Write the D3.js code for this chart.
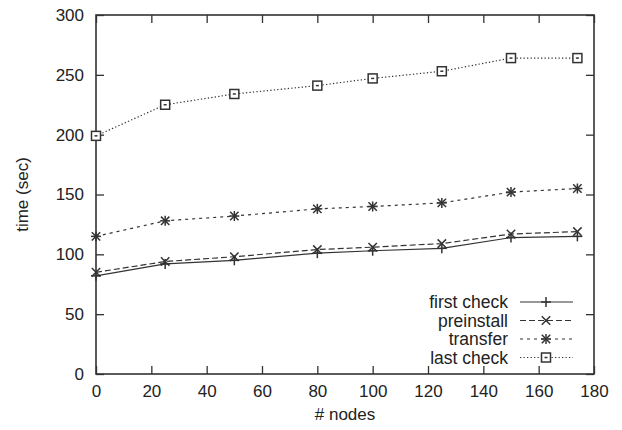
<!DOCTYPE html>
<html>
<head>
<meta charset="utf-8">
<script src="https://cdn.jsdelivr.net/npm/d3@7"></script>
<style>
  body { margin: 0; background: #fff; }
  text { font-family: "Liberation Sans", Arial, sans-serif; fill: #222; }
</style>
</head>
<body>
<script>
// node counts on x
var nodes = [0, 25, 50, 80, 100, 125, 150, 174];

var firstCheck = [82, 92, 95, 101, 103, 105, 114, 115];
var preinstall = [85, 94, 98, 104, 106, 109, 117, 119];
var transfer   = [115, 128, 132, 138, 140, 143, 152, 155];
var lastCheck  = [199, 225, 234, 241, 247, 253, 264, 264];

var xTicks = [0, 20, 40, 60, 80, 100, 120, 140, 160, 180];
var yTicks = [0, 50, 100, 150, 200, 250, 300];

var series = [
  {name: "first check", values: firstCheck, dash: null, marker: "plus"},
  {name: "preinstall", values: preinstall, dash: "6,3", marker: "cross"},
  {name: "transfer", values: transfer, dash: "3,4", marker: "star"},
  {name: "last check", values: lastCheck, dash: "1.3,2.2", marker: "box"}
];

var width = 622, height = 430;
var margin = {top: 15, right: 28, bottom: 56, left: 96};
var w = width - margin.left - margin.right, h = height - margin.top - margin.bottom;

var xScale = d3.scaleLinear().domain([0, 180]).range([0, w]);
var yScale = d3.scaleLinear().domain([0, 300]).range([h, 0]);

var svg = d3.select("body").append("svg")
    .attr("width", width)
    .attr("height", height)
  .append("g")
    .attr("transform", "translate(" + margin.left + "," + margin.top + ")");

// axes, gnuplot style ticks pointing inwards on all sides
var ink = "#333";
function styleAxis(g) {
  g.select(".domain").remove();
  g.selectAll(".tick line").attr("stroke", ink).attr("stroke-width", 1.3);
  g.selectAll(".tick text").attr("font-size", 17).attr("fill", "#222")
    .style("font-family", "'Liberation Sans', Arial, sans-serif");
}

svg.append("g")
    .attr("transform", "translate(0," + h + ")")
    .call(d3.axisBottom(xScale).tickValues(xTicks).tickSize(-8).tickPadding(11))
    .call(styleAxis);
svg.append("g")
    .call(d3.axisTop(xScale).tickValues(xTicks).tickSize(-8).tickFormat(""))
    .call(styleAxis);
svg.append("g")
    .call(d3.axisLeft(yScale).tickValues(yTicks).tickSize(-8).tickPadding(12))
    .call(styleAxis);
svg.append("g")
    .attr("transform", "translate(" + w + ",0)")
    .call(d3.axisRight(yScale).tickValues(yTicks).tickSize(-8).tickFormat(""))
    .call(styleAxis);

svg.append("rect")
    .attr("width", w).attr("height", h)
    .attr("fill", "none").attr("stroke", ink).attr("stroke-width", 1.6);

// markers
function drawMarker(g, type, x, y) {
  var s = 5;
  if (type == "plus" || type == "star") {
    g.append("line").attr("x1", x - s).attr("x2", x + s).attr("y1", y).attr("y2", y);
    g.append("line").attr("x1", x).attr("x2", x).attr("y1", y - s).attr("y2", y + s);
  }
  if (type == "cross" || type == "star") {
    var c = 4.2;
    g.append("line").attr("x1", x - c).attr("x2", x + c).attr("y1", y - c).attr("y2", y + c);
    g.append("line").attr("x1", x - c).attr("x2", x + c).attr("y1", y + c).attr("y2", y - c);
  }
  if (type == "box") {
    g.append("rect").attr("x", x - 4.5).attr("y", y - 4.5).attr("width", 9).attr("height", 9)
      .attr("fill", "#fff");
    g.append("line").attr("x1", x - 1.5).attr("x2", x + 1.5).attr("y1", y).attr("y2", y);
  }
}

var line = d3.line()
    .x(function(d) { return xScale(d.x); })
    .y(function(d) { return yScale(d.y); });

series.forEach(function(s) {
  var pts = nodes.map(function(n, i) { return {x: n, y: s.values[i]}; });
  svg.append("path")
      .datum(pts)
      .attr("d", line)
      .attr("fill", "none")
      .attr("stroke", ink)
      .attr("stroke-width", 1.2)
      .attr("stroke-dasharray", s.dash);
  var mg = svg.append("g").attr("stroke", ink).attr("stroke-width", 1.5).attr("fill", "none");
  pts.forEach(function(p) { drawMarker(mg, s.marker, xScale(p.x), yScale(p.y)); });
});

// legend
var legend = svg.append("g").attr("transform", "translate(" + (508 - margin.left) + "," + (302 - margin.top) + ")");
series.forEach(function(s, i) {
  var ly = i * 18.5;
  legend.append("text")
      .attr("x", 0).attr("y", ly)
      .attr("dy", "0.35em")
      .attr("text-anchor", "end")
      .attr("font-size", 17.5)
      .text(s.name);
  legend.append("line")
      .attr("x1", 12).attr("x2", 65).attr("y1", ly).attr("y2", ly)
      .attr("stroke", ink).attr("stroke-width", 1.2)
      .attr("stroke-dasharray", s.dash);
  var mg = legend.append("g").attr("stroke", ink).attr("stroke-width", 1.5).attr("fill", "none");
  drawMarker(mg, s.marker, 38, ly);
});

// axis titles
svg.append("text")
    .attr("x", w / 2).attr("y", h + 46)
    .attr("text-anchor", "middle")
    .attr("font-size", 17)
    .text("# nodes");

svg.append("text")
    .attr("transform", "rotate(-90)")
    .attr("x", -h / 2).attr("y", -margin.left + 28)
    .attr("text-anchor", "middle")
    .attr("font-size", 17)
    .text("time (sec)");
</script>
</body>
</html>
